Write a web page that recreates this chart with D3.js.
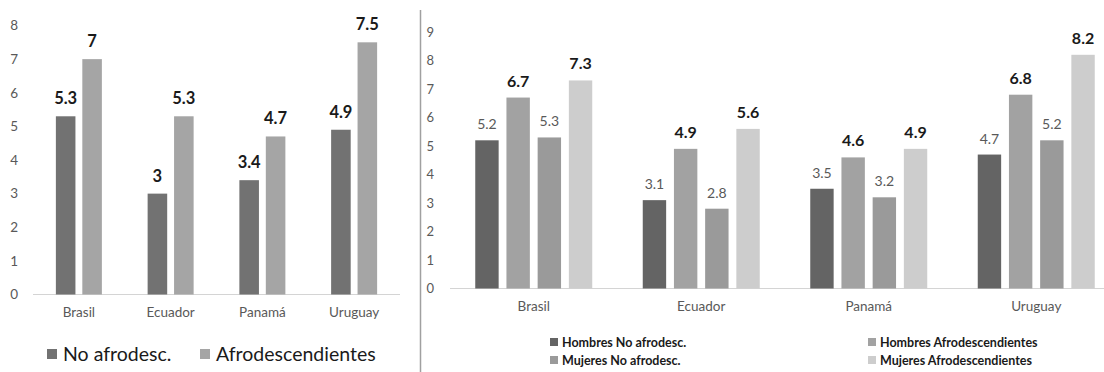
<!DOCTYPE html>
<html>
<head>
<meta charset="utf-8">
<script src="https://cdn.jsdelivr.net/npm/d3@7"></script>
<style>
  body { margin: 0; background: #fff; }
  svg { display: block; font-family: Lato, "Open Sans", sans-serif; }
</style>
</head>
<body>
<svg id="canvas"></svg>
<script>
// datos
let paises = ['Brasil', 'Ecuador', 'Panamá', 'Uruguay']

let noAfro = [5.3, 3, 3.4, 4.9]
let afro = [7, 5.3, 4.7, 7.5]

let hombresNoAfro = [5.2, 3.1, 3.5, 4.7]
let hombresAfro = [6.7, 4.9, 4.6, 6.8]
let mujeresNoAfro = [5.3, 2.8, 3.2, 5.2]
let mujeresAfro = [7.3, 5.6, 4.9, 8.2]

let seriesIzq = ['No afrodesc.', 'Afrodescendientes']
let seriesDer = ['Hombres No afrodesc.', 'Hombres Afrodescendientes', 'Mujeres No afrodesc.', 'Mujeres Afrodescendientes']

let ticksIzq = [0, 1, 2, 3, 4, 5, 6, 7, 8]
let ticksDer = [0, 1, 2, 3, 4, 5, 6, 7, 8, 9]

let width = 1104
let height = 372

let canvas = d3.select('#canvas')
canvas.attr('width', width).attr('height', height)

// ---------------- grafico izquierdo ----------------
let coloresIzq = ['#727272', '#a5a5a5']
let datosIzq = [noAfro, afro]

let xIzq = d3.scaleBand().domain(paises).range([33, 400])
let xIzqSub = d3.scaleBand().domain(d3.range(2)).range([0, 46]).paddingInner(0.26)
let yIzq = d3.scaleLinear().domain([0, 8]).range([294.5, 25.5])

let gIzq = canvas.append('g')

let ejeYIzq = d3.axisLeft(yIzq).tickValues(ticksIzq).tickSize(0).tickPadding(0)
gIzq.append('g')
    .attr('transform', 'translate(18,0)')
    .call(ejeYIzq)
    .call(g => g.select('.domain').remove())
    .selectAll('text')
    .attr('fill', '#595959')
    .style('font-size', '13.5px')
    .style('font-family', 'Lato, sans-serif')

gIzq.append('line')
    .attr('x1', 33).attr('x2', 400)
    .attr('y1', yIzq(0)).attr('y2', yIzq(0))
    .attr('stroke', '#d4d4d4')

datosIzq.forEach((serie, s) => {
    gIzq.selectAll('.barIzq' + s)
        .data(serie)
        .enter()
        .append('rect')
        .attr('x', (d, i) => xIzq(paises[i]) + xIzq.bandwidth() / 2 - 23 + xIzqSub(s))
        .attr('y', d => yIzq(d))
        .attr('width', xIzqSub.bandwidth())
        .attr('height', d => yIzq(0) - yIzq(d))
        .attr('fill', coloresIzq[s])

    gIzq.selectAll('.valIzq' + s)
        .data(serie)
        .enter()
        .append('text')
        .attr('x', (d, i) => xIzq(paises[i]) + xIzq.bandwidth() / 2 - 23 + xIzqSub(s) + xIzqSub.bandwidth() / 2)
        .attr('y', d => yIzq(d) - 12)
        .attr('text-anchor', 'middle')
        .attr('fill', '#1a1a1a')
        .style('font-size', '16.5px')
        .style('font-weight', 'bold')
        .text(d => d)
})

let ejeXIzq = d3.axisBottom(xIzq).tickSize(0).tickPadding(0)
gIzq.append('g')
    .attr('transform', 'translate(0,310)')
    .call(ejeXIzq)
    .call(g => g.select('.domain').remove())
    .selectAll('text')
    .attr('fill', '#595959')
    .attr('dy', '0.5em')
    .style('font-size', '13.5px')
    .style('font-family', 'Lato, sans-serif')

let legIzqX = [47, 200]
seriesIzq.forEach((nombre, s) => {
    gIzq.append('rect')
        .attr('x', legIzqX[s]).attr('y', 349)
        .attr('width', 10).attr('height', 10)
        .attr('fill', coloresIzq[s])
    gIzq.append('text')
        .attr('x', legIzqX[s] + 16).attr('y', 361)
        .attr('fill', '#1a1a1a')
        .style('font-size', '19.5px')
        .text(nombre)
})

// separador
canvas.append('line')
    .attr('x1', 420.5).attr('x2', 420.5)
    .attr('y1', 10).attr('y2', height)
    .attr('stroke', '#a0a0a0')
    .attr('stroke-width', 1.5)

// ---------------- grafico derecho ----------------
let coloresDer = ['#646464', '#a2a2a2', '#9a9a9a', '#cdcdcd']
let datosDer = [hombresNoAfro, hombresAfro, mujeresNoAfro, mujeresAfro]
let negrita = [false, true, false, true]

let xDer = d3.scaleBand().domain(paises).range([450, 1120])
let xDerSub = d3.scaleBand().domain(d3.range(4)).range([0, 117]).paddingInner(0.25)
let yDer = d3.scaleLinear().domain([0, 9]).range([288.5, 32])

let gDer = canvas.append('g')

let ejeYDer = d3.axisLeft(yDer).tickValues(ticksDer).tickSize(0).tickPadding(0)
gDer.append('g')
    .attr('transform', 'translate(434,0)')
    .call(ejeYDer)
    .call(g => g.select('.domain').remove())
    .selectAll('text')
    .attr('fill', '#595959')
    .style('font-size', '13px')
    .style('font-family', 'Lato, sans-serif')

gDer.append('line')
    .attr('x1', 450).attr('x2', width)
    .attr('y1', yDer(0)).attr('y2', yDer(0))
    .attr('stroke', '#d4d4d4')

datosDer.forEach((serie, s) => {
    gDer.selectAll('.barDer' + s)
        .data(serie)
        .enter()
        .append('rect')
        .attr('x', (d, i) => xDer(paises[i]) + xDer.bandwidth() / 2 - 58.5 + xDerSub(s))
        .attr('y', d => yDer(d))
        .attr('width', xDerSub.bandwidth())
        .attr('height', d => yDer(0) - yDer(d))
        .attr('fill', coloresDer[s])

    gDer.selectAll('.valDer' + s)
        .data(serie)
        .enter()
        .append('text')
        .attr('x', (d, i) => xDer(paises[i]) + xDer.bandwidth() / 2 - 58.5 + xDerSub(s) + xDerSub.bandwidth() / 2)
        .attr('y', d => yDer(d) - 11)
        .attr('text-anchor', 'middle')
        .attr('fill', negrita[s] ? '#1a1a1a' : '#595959')
        .style('font-size', negrita[s] ? '16px' : '14px')
        .style('font-weight', negrita[s] ? 'bold' : 'normal')
        .text(d => d)
})

let ejeXDer = d3.axisBottom(xDer).tickSize(0).tickPadding(0)
gDer.append('g')
    .attr('transform', 'translate(0,304)')
    .call(ejeXDer)
    .call(g => g.select('.domain').remove())
    .selectAll('text')
    .attr('fill', '#595959')
    .attr('dy', '0.5em')
    .style('font-size', '13.5px')
    .style('font-family', 'Lato, sans-serif')

let legDerX = [550, 868, 550, 868]
let legDerY = [342, 342, 360, 360]
seriesDer.forEach((nombre, s) => {
    gDer.append('rect')
        .attr('x', legDerX[s]).attr('y', legDerY[s] - 4)
        .attr('width', 8).attr('height', 8)
        .attr('fill', coloresDer[s])
    gDer.append('text')
        .attr('x', legDerX[s] + 12).attr('y', legDerY[s] + 4.5)
        .attr('fill', '#1a1a1a')
        .style('font-size', '12.5px')
        .style('font-weight', 'bold')
        .text(nombre)
})
</script>
</body>
</html>
